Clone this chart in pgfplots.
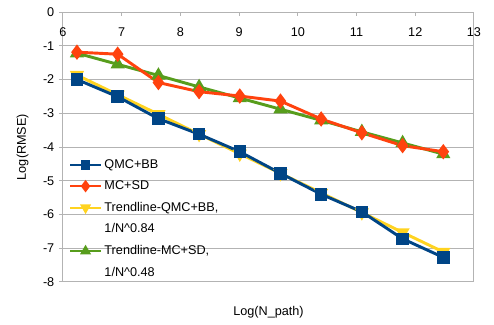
\documentclass[border=0pt]{standalone}
\usepackage{fontspec}
\setmainfont{Liberation Sans}
\usepackage{pgfplots}
\pgfplotsset{compat=1.18}
\definecolor{cblue}{HTML}{004586}
\definecolor{corange}{HTML}{FF420E}
\definecolor{cyellow}{HTML}{FFD320}
\definecolor{cgreen}{HTML}{579D1C}
\definecolor{cgrid}{HTML}{B3B3B3}
\begin{document}
\begin{tikzpicture}
\begin{axis}[
  at={(0,0)}, anchor=south west,
  scale only axis, width=308.25pt, height=202.5pt,
  xmin=6, xmax=13, ymin=-8, ymax=0,
  xtick={6,7,8,9,10,11,12,13}, ytick={-8,-7,-6,-5,-4,-3,-2,-1,0},
  /pgf/number format/assume math mode=true,
  ticklabel style={font=\fontsize{9.5}{11}\selectfont},
  xticklabel pos=upper,
  xtick pos=upper,
  ytick pos=left,
  xtick align=inside,
  ytick align=outside,
  major tick length=3pt,
  tick style={cgrid, line width=0.75pt},
  xticklabel style={anchor=north, yshift=-8.5pt},
  axis line style={cgrid, line width=0.75pt},
  ymajorgrids, grid style={cgrid, line width=0.75pt},
  ylabel={Log(RMSE)},
  ylabel style={font=\fontsize{9.5}{11}\selectfont, yshift=4pt},
  xlabel={Log(N\_path)},
  xlabel style={font=\fontsize{9.5}{11}\selectfont, at={(axis description cs:0.5,0)}, anchor=north, yshift=-15pt},
  legend style={draw=none, fill=none, at={(axis description cs:0.005,0.475)}, anchor=north west,
    font=\fontsize{9.5}{11}\selectfont, row sep=3.9pt, cells={anchor=west}},
  legend cell align=left,
  legend image code/.code={\draw[mark repeat=2,mark phase=2] plot coordinates {(0cm,0cm)(0.4cm,0cm)(0.8cm,0cm)};},
]
\addplot[forget plot, cyellow, line width=2.2pt, mark=triangle*, mark size=4pt, mark options={rotate=180}]
coordinates {(6.238,-1.87)(6.931,-2.45)(7.625,-3.03)(8.318,-3.62)(9.011,-4.20)(9.704,-4.78)(10.397,-5.36)(11.090,-5.94)(11.784,-6.53)(12.477,-7.11)};
\addplot[forget plot, cgreen, line width=2.2pt, mark=triangle*, mark size=4pt]
coordinates {(6.238,-1.22)(6.931,-1.55)(7.625,-1.88)(8.318,-2.22)(9.011,-2.55)(9.704,-2.88)(10.397,-3.21)(11.090,-3.55)(11.784,-3.88)(12.477,-4.21)};
\addplot[forget plot, cblue, line width=2.2pt, mark=square*, mark size=3.6pt]
coordinates {(6.238,-2.00)(6.931,-2.51)(7.625,-3.16)(8.318,-3.62)(9.011,-4.14)(9.704,-4.78)(10.397,-5.40)(11.090,-5.92)(11.784,-6.72)(12.477,-7.27)};
\addplot[forget plot, corange, line width=2.2pt, mark=diamond*, mark size=4pt]
coordinates {(6.238,-1.19)(6.931,-1.25)(7.625,-2.09)(8.318,-2.36)(9.011,-2.49)(9.704,-2.64)(10.397,-3.17)(11.090,-3.58)(11.784,-3.96)(12.477,-4.14)};
\addlegendimage{cblue, line width=1.6pt, mark=square*, mark size=2.9pt}
\addlegendentry{QMC+BB}
\addlegendimage{corange, line width=1.6pt, mark=diamond*, mark size=3.4pt}
\addlegendentry{MC+SD}
\addlegendimage{cyellow, line width=1.6pt, mark=triangle*, mark size=3.2pt, mark options={rotate=180}}
\addlegendentry{Trendline-QMC+BB,}
\addlegendimage{empty legend}
\addlegendentry{1/N\textasciicircum 0.84}
\addlegendimage{cgreen, line width=1.6pt, mark=triangle*, mark size=3.2pt}
\addlegendentry{Trendline-MC+SD,}
\addlegendimage{empty legend}
\addlegendentry{1/N\textasciicircum 0.48}
\end{axis}
\pgfresetboundingbox
\path (-47.25pt,-32.25pt) rectangle (323.25pt,211.5pt);
\end{tikzpicture}
\end{document}
